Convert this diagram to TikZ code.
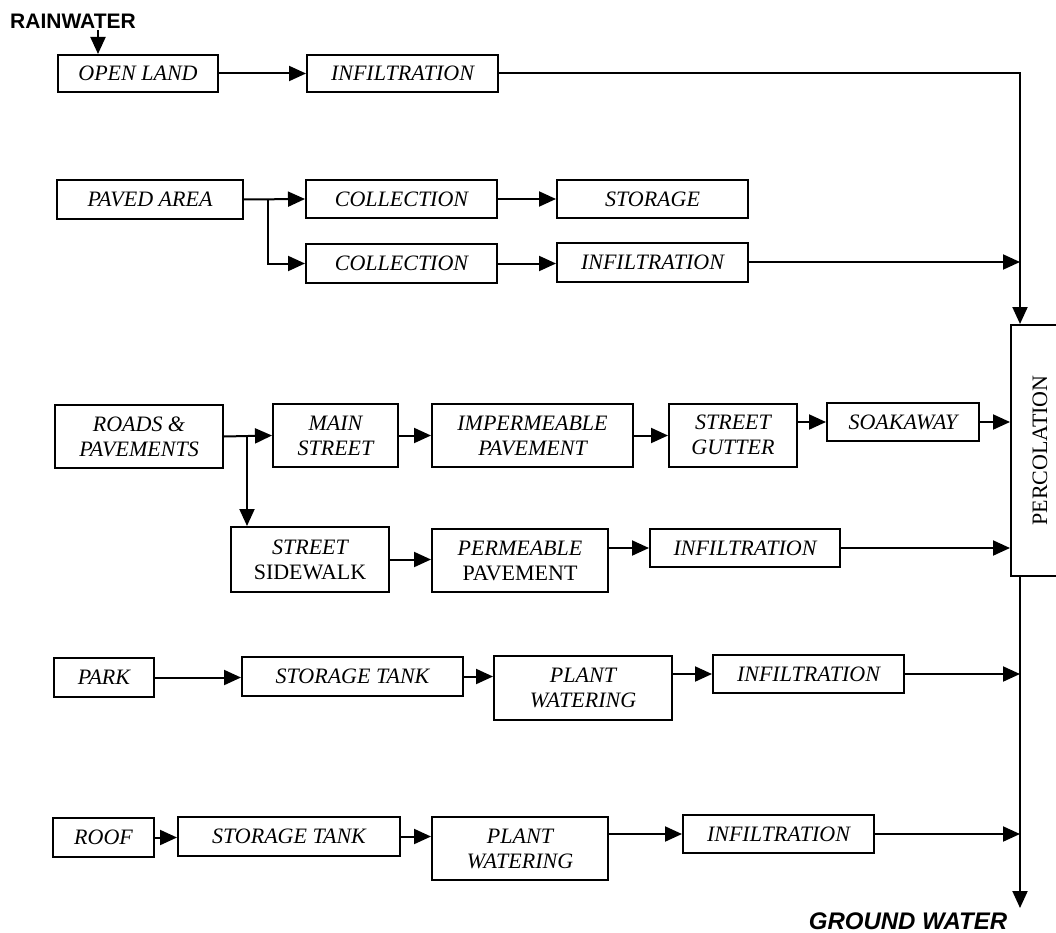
\documentclass[tikz,border=0pt]{standalone}
\usepackage{fontspec}
\setmainfont{Liberation Serif}
\newfontfamily\arialf{Liberation Sans}
\usetikzlibrary{arrows.meta}
\tikzset{
  box/.style={draw, line width=2pt, inner sep=0pt, align=center,
    font=\fontsize{22}{25}\selectfont\itshape},
  arr/.style={line width=2pt, -{Triangle[length=17pt,width=15pt]}},
  lbl/.style={inner sep=0pt}
}
\begin{document}
\begin{tikzpicture}[x=1pt,y=-1pt]
\useasboundingbox[fill=white] (0,0) rectangle (1056,933);
% row 1
\node[lbl, font=\arialf\bfseries\fontsize{21}{21}\selectfont] (rain) at (73,21) {RAINWATER};
\node[box, minimum width=160, minimum height=37] (open) at (138,73.5) {OPEN LAND};
\node[box, minimum width=191, minimum height=37] (inf1) at (402.5,73.5) {INFILTRATION};
% row 2
\node[box, minimum width=186, minimum height=39] (paved) at (150,199.5) {PAVED AREA};
\node[box, minimum width=191, minimum height=38] (coll1) at (401.5,199) {COLLECTION};
\node[box, minimum width=191, minimum height=38] (stor) at (652.5,199) {STORAGE};
\node[box, minimum width=191, minimum height=39] (coll2) at (401.5,263.5) {COLLECTION};
\node[box, minimum width=191, minimum height=39] (inf2) at (652.5,262) {INFILTRATION};
% row 3
\node[box, minimum width=168, minimum height=63] (roads) at (139,436.5) {ROADS \&\\PAVEMENTS};
\node[box, minimum width=125, minimum height=63] (main) at (335.5,435.5) {MAIN\\STREET};
\node[box, minimum width=201, minimum height=63] (imp) at (532.5,435.5) {IMPERMEABLE\\PAVEMENT};
\node[box, minimum width=128, minimum height=63] (gut) at (733,435) {STREET\\GUTTER};
\node[box, minimum width=152, minimum height=38] (soak) at (903,422) {SOAKAWAY};
\node[box, minimum width=158, minimum height=65] (side) at (310,559.5) {STREET\\\upshape SIDEWALK};
\node[box, minimum width=176, minimum height=63] (perm) at (520,560.5) {PERMEABLE\\\upshape PAVEMENT};
\node[box, minimum width=190, minimum height=38] (inf3) at (745,548) {INFILTRATION};
\node[box, font=\fontsize{22}{25}\selectfont\upshape, minimum width=58, minimum height=251] (perc) at (1040,450.5) {\rotatebox{90}{PERCOLATION}};
% row 4
\node[box, minimum width=100, minimum height=39] (park) at (104,677.5) {PARK};
\node[box, minimum width=221, minimum height=39] (st1) at (352.5,676.5) {STORAGE TANK};
\node[box, minimum width=178, minimum height=64] (pw1) at (583,688) {PLANT\\WATERING};
\node[box, minimum width=191, minimum height=38] (inf4) at (808.5,674) {INFILTRATION};
% row 5
\node[box, minimum width=101, minimum height=39] (roof) at (103.5,837.5) {ROOF};
\node[box, minimum width=222, minimum height=39] (st2) at (289,836.5) {STORAGE TANK};
\node[box, minimum width=176, minimum height=63] (pw2) at (520,848.5) {PLANT\\WATERING};
\node[box, minimum width=191, minimum height=38] (inf5) at (778.5,834) {INFILTRATION};
\node[lbl, font=\arialf\bfseries\itshape\fontsize{24}{24}\selectfont] (gw) at (908,921) {GROUND WATER};
% coordinates
\coordinate (r0) at (98,30);
\coordinate (btop) at (1020,74);
\coordinate (bbot) at (1020,908);
\coordinate (j2) at (268,200);
\coordinate (j3) at (247,437);
% connectors
\draw[arr] (r0) -- (r0 |- open.north);
\draw[arr] (open.east) -- (inf1.west);
\draw[arr] (inf1.east) -| (btop |- perc.north);
\draw[arr] (paved.east) -- (coll1.west);
\draw[arr] (j2) |- (coll2.west);
\draw[arr] (coll1.east) -- (stor.west);
\draw[arr] (coll2.east) -- (coll2.east -| inf2.west);
\draw[arr] (inf2.east) -- (inf2.east -| btop);
\draw[arr] (roads.east) -- (main.west);
\draw[arr] (j3) -- (j3 |- side.north);
\draw[arr] (main.east) -- (imp.west);
\draw[arr] (imp.east) -- (imp.east -| gut.west);
\draw[arr] (soak.west -| gut.east) -- (soak.west);
\draw[arr] (soak.east) -- (soak.east -| perc.west);
\draw[arr] (side.east) -- (side.east -| perm.west);
\draw[arr] (inf3.west -| perm.east) -- (inf3.west);
\draw[arr] (inf3.east) -- (inf3.east -| perc.west);
\draw[arr] (park.east) -- (park.east -| st1.west);
\draw[arr] (st1.east) -- (st1.east -| pw1.west);
\draw[arr] (inf4.west -| pw1.east) -- (inf4.west);
\draw[arr] (inf4.east) -- (inf4.east -| btop);
\draw[arr] (roof.east) -- (roof.east -| st2.west);
\draw[arr] (st2.east) -- (st2.east -| pw2.west);
\draw[arr] (inf5.west -| pw2.east) -- (inf5.west);
\draw[arr] (inf5.east) -- (inf5.east -| btop);
\draw[arr] (btop |- perc.south) -- (bbot);
\end{tikzpicture}
\end{document}
